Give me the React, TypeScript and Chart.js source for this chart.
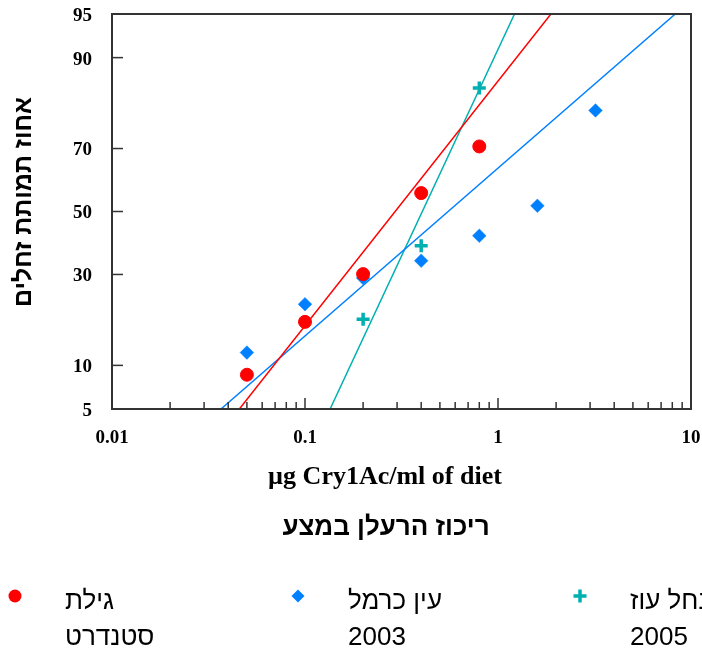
import React, { useEffect, useRef } from "react";
import { Chart, registerables } from "chart.js";

Chart.register(...registerables);

// ---- data (percent mortality) ----
const DOSES_GILAT = [0.05, 0.1, 0.2, 0.4, 0.8];
const MORT_GILAT = [8.7, 17.9, 30.1, 56.1, 70.6];

const DOSES_EIN = [0.05, 0.1, 0.2, 0.4, 0.8, 1.6, 3.2];
const MORT_EIN = [12.0, 22.0, 29.0, 34.1, 42.0, 51.9, 80.0];

const DOSES_NAHAL = [0.2, 0.4, 0.8];
const MORT_NAHAL = [18.5, 38.8, 84.8];

// fitted probit lines (end points)
const LINE_GILAT_X = [0.0457, 1.88];
const LINE_EIN_X = [0.0367, 8.29];
const LINE_NAHAL_X = [0.1349, 1.218];
const LINE_Y = [5, 95];

const SERIES_NAMES = [
  ["גילת", "סטנדרט"],
  ["עין כרמל", "2003"],
  ["נחל עוז", "2005"],
];
const SERIES_COLORS = ["#ff0000", "#0080ff", "#00b0b0"];

const Y_TICKS = [5, 10, 30, 50, 70, 90, 95];
const X_MAJOR = [0.01, 0.1, 1, 10];
const X_MAJOR_LABELS = ["0.01", "0.1", "1", "10"];
const X_MINOR_MULT = [2, 3, 4, 5, 6, 7, 8, 9];

const X_TITLE = "µg Cry1Ac/ml of diet";
const X_TITLE_HE = "ריכוז הרעלן במצע";
const Y_TITLE = "אחוז תמותת זחלים";

// inverse normal CDF (probit transform of the percent axis)
function probit(p: number): number {
  const a = [-3.969683028665376e1, 2.209460984245205e2, -2.759285104469687e2, 1.38357751867269e2, -3.066479806614716e1, 2.506628277459239];
  const b = [-5.447609879822406e1, 1.615858368580409e2, -1.556989798598866e2, 6.680131188771972e1, -1.328068155288572e1];
  const c = [-7.784894002430293e-3, -3.223964580411365e-1, -2.400758277161838, -2.549732539343734, 4.374664141464968, 2.938163982698783];
  const d = [7.784695709041462e-3, 3.224671290700398e-1, 2.445134137142996, 3.754408661907416];
  const pl = 0.02425;
  let q, r;
  if (p < pl) {
    q = Math.sqrt(-2 * Math.log(p));
    return (((((c[0] * q + c[1]) * q + c[2]) * q + c[3]) * q + c[4]) * q + c[5]) / ((((d[0] * q + d[1]) * q + d[2]) * q + d[3]) * q + 1);
  } else if (p <= 1 - pl) {
    q = p - 0.5;
    r = q * q;
    return ((((((a[0] * r + a[1]) * r + a[2]) * r + a[3]) * r + a[4]) * r + a[5]) * q) / (((((b[0] * r + b[1]) * r + b[2]) * r + b[3]) * r + b[4]) * r + 1);
  } else {
    q = Math.sqrt(-2 * Math.log(1 - p));
    return -(((((c[0] * q + c[1]) * q + c[2]) * q + c[3]) * q + c[4]) * q + c[5]) / ((((d[0] * q + d[1]) * q + d[2]) * q + d[3]) * q + 1);
  }
}

const toPts = (xs: number[], ys: number[]) => xs.map((x, i) => ({ x, y: probit(ys[i] / 100) }));

const X_TICKS: number[] = [];
X_MAJOR.forEach((m, i) => {
  X_TICKS.push(m);
  if (i < X_MAJOR.length - 1) X_MINOR_MULT.forEach((k) => X_TICKS.push(m * k));
});

const isMajor = (v: number) => Math.abs(Math.log10(v) - Math.round(Math.log10(v))) < 1e-6;

const decorPlugin = {
  id: "decor",
  afterDraw(chart: any) {
    const { ctx, chartArea: a, scales } = chart;
    ctx.save();
    // frame
    ctx.strokeStyle = "#333";
    ctx.lineWidth = 2;
    ctx.strokeRect(a.left, a.top, a.right - a.left, a.bottom - a.top);
    // inward ticks
    ctx.lineWidth = 1.5;
    const xs = scales.x;
    xs.ticks.forEach((t: any) => {
      const px = xs.getPixelForValue(t.value);
      if (px <= a.left + 1 || px >= a.right - 1) return;
      const len = isMajor(t.value) ? 11 : 7;
      ctx.beginPath();
      ctx.moveTo(px, a.bottom);
      ctx.lineTo(px, a.bottom - len);
      ctx.stroke();
    });
    const ys = scales.y;
    ys.ticks.forEach((t: any) => {
      const py = ys.getPixelForValue(t.value);
      if (py <= a.top + 1 || py >= a.bottom - 1) return;
      ctx.beginPath();
      ctx.moveTo(a.left, py);
      ctx.lineTo(a.left + 11, py);
      ctx.stroke();
    });

    ctx.fillStyle = "#000";
    // y title
    ctx.save();
    ctx.translate(24, 202);
    ctx.rotate(-Math.PI / 2);
    ctx.font = "bold 25px 'Liberation Sans', Arial, sans-serif";
    ctx.textAlign = "center";
    ctx.textBaseline = "middle";
    ctx.fillText(Y_TITLE, 0, 0);
    ctx.restore();

    // x titles
    ctx.textAlign = "center";
    ctx.textBaseline = "middle";
    ctx.font = "bold 26px 'Liberation Serif', 'Times New Roman', serif";
    ctx.fillText(X_TITLE, 385, 477);
    ctx.font = "bold 26px 'Liberation Sans', Arial, sans-serif";
    ctx.fillText(X_TITLE_HE, 386, 528);

    // legend
    const lx = [15, 298, 580];
    SERIES_NAMES.forEach((lines, i) => {
      const x = lx[i];
      const y = 596;
      const col = SERIES_COLORS[i];
      ctx.fillStyle = col;
      ctx.strokeStyle = col;
      if (i === 0) {
        ctx.beginPath();
        ctx.arc(x, y, 6.5, 0, Math.PI * 2);
        ctx.fill();
      } else if (i === 1) {
        ctx.beginPath();
        ctx.moveTo(x, y - 6.5);
        ctx.lineTo(x + 6.5, y);
        ctx.lineTo(x, y + 6.5);
        ctx.lineTo(x - 6.5, y);
        ctx.closePath();
        ctx.fill();
      } else {
        ctx.lineWidth = 3.5;
        ctx.beginPath();
        ctx.moveTo(x - 6.5, y);
        ctx.lineTo(x + 6.5, y);
        ctx.moveTo(x, y - 6.5);
        ctx.lineTo(x, y + 6.5);
        ctx.stroke();
      }
      ctx.fillStyle = "#000";
      ctx.font = "26px 'Liberation Sans', Arial, sans-serif";
      ctx.textAlign = "left";
      ctx.textBaseline = "middle";
      ctx.fillText(lines[0], x + 50, 602);
      ctx.fillText(lines[1], x + 50, 638);
    });
    ctx.restore();
  },
};

export default function App() {
  const ref = useRef<HTMLCanvasElement | null>(null);
  useEffect(() => {
    if (!ref.current) return;
    const pointSets = [
      { data: toPts(DOSES_GILAT, MORT_GILAT), style: "circle", r: 6.5, bw: 1 },
      { data: toPts(DOSES_EIN, MORT_EIN), style: "rectRot", r: 6.8, bw: 0.5 },
      { data: toPts(DOSES_NAHAL, MORT_NAHAL), style: "cross", r: 6.5, bw: 3.5 },
    ];
    const lineSets = [LINE_GILAT_X, LINE_EIN_X, LINE_NAHAL_X];
    const datasets: any[] = [];
    lineSets.forEach((lx, i) => {
      datasets.push({
        label: SERIES_NAMES[i].join(" ") + " fit",
        data: toPts(lx, LINE_Y),
        showLine: true,
        borderColor: SERIES_COLORS[i],
        borderWidth: 1.5,
        pointRadius: 0,
        fill: false,
      });
    });
    pointSets.forEach((ps, i) => {
      datasets.push({
        label: SERIES_NAMES[i].join(" "),
        data: ps.data,
        showLine: false,
        pointStyle: ps.style,
        pointRadius: ps.r,
        pointBorderWidth: ps.bw,
        borderWidth: ps.bw,
        backgroundColor: SERIES_COLORS[i],
        borderColor: SERIES_COLORS[i],
      });
    });

    const tickFont = { family: "'Liberation Serif', 'Times New Roman', serif", size: 19, weight: "bold" as const };
    const chart = new Chart(ref.current, {
      type: "scatter",
      data: { datasets },
      plugins: [decorPlugin],
      options: {
        animation: false,
        responsive: false,
        layout: { padding: { left: 0, top: 14, right: 11, bottom: 0 } },
        plugins: { legend: { display: false }, tooltip: { enabled: false } },
        scales: {
          x: {
            type: "logarithmic",
            min: 0.01,
            max: 10,
            afterBuildTicks: (s: any) => {
              s.ticks = X_TICKS.map((v) => ({ value: v }));
            },
            afterFit: (s: any) => {
              s.height = 244;
              s.paddingLeft = 0;
              s.paddingRight = 0;
            },
            ticks: {
              autoSkip: false,
              maxRotation: 0,
              padding: 18,
              color: "#000",
              font: tickFont,
              callback: (v: any) => {
                const idx = X_MAJOR.findIndex((m) => Math.abs(m - Number(v)) < 1e-9);
                return idx >= 0 ? X_MAJOR_LABELS[idx] : "";
              },
            },
            grid: { display: false, drawTicks: false },
            border: { display: false },
          },
          y: {
            type: "linear",
            min: probit(Y_TICKS[0] / 100),
            max: probit(Y_TICKS[Y_TICKS.length - 1] / 100),
            afterBuildTicks: (s: any) => {
              s.ticks = Y_TICKS.map((p) => ({ value: probit(p / 100) }));
            },
            afterFit: (s: any) => {
              s.width = 112;
              s.paddingTop = 0;
              s.paddingBottom = 0;
            },
            ticks: {
              autoSkip: false,
              padding: 20,
              labelOffset: 2,
              color: "#000",
              font: tickFont,
              callback: (_v: any, i: number) => String(Y_TICKS[i]),
            },
            grid: { display: false, drawTicks: false },
            border: { display: false },
          },
        },
      },
    });
    return () => chart.destroy();
  }, []);

  return (
    <div style={{ position: "absolute", left: 0, top: 0, width: 702, height: 653, overflow: "hidden", background: "#fff" }}>
      <canvas ref={ref} width={702} height={653} />
    </div>
  );
}
